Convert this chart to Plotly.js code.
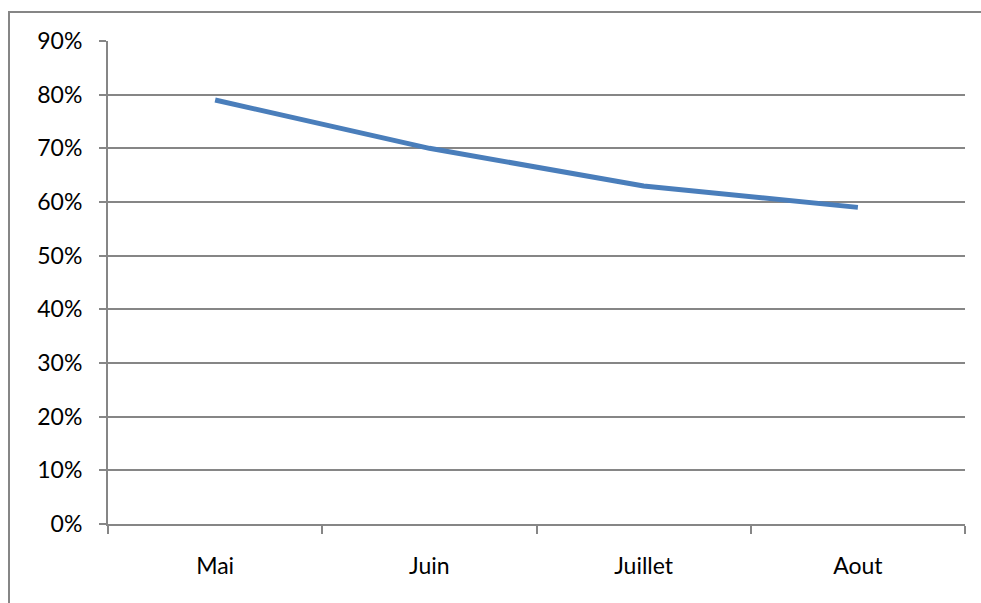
<!DOCTYPE html>
<html><head><meta charset="utf-8">
<script src="https://cdn.plot.ly/plotly-3.0.1.min.js"></script>
<style>html,body{margin:0;padding:0;background:#fff;}#c{width:981px;height:603px;}</style>
</head><body><div id="c"></div>
<script>
const months = ["Mai", "Juin", "Juillet", "Aout"];
const rates = [0.79, 0.70, 0.63, 0.59];
const yTicks = [0, 0.1, 0.2, 0.3, 0.4, 0.5, 0.6, 0.7, 0.8, 0.9];

const trace = {
  x: months, y: rates, type: "scatter", mode: "lines",
  line: {color: "#4a7ebb", width: 5}, hoverinfo: "none"
};
const layout = {
  width: 981, height: 603,
  margin: {l: 108, r: 16, t: 41, b: 79},
  paper_bgcolor: "#fff", plot_bgcolor: "#fff",
  showlegend: false,
  font: {family: "Lato, 'Open Sans', sans-serif", size: 23, color: "#000"},
  xaxis: {
    type: "category", range: [-0.5, 3.5], showgrid: false,
    showline: true, linecolor: "#868686", linewidth: 2,
    ticks: "outside", tickson: "boundaries", ticklen: 8, tickcolor: "#868686", tickwidth: 2,
    ticklabelstandoff: 20, zeroline: false
  },
  yaxis: {
    range: [0, 0.9], tickvals: yTicks, tickformat: ".0%",
    showgrid: true, gridcolor: "#868686", gridwidth: 2,
    showline: true, linecolor: "#868686", linewidth: 2,
    ticks: "outside", ticklen: 7, tickcolor: "#868686", tickwidth: 2,
    ticklabelstandoff: 12, zeroline: false
  },
  shapes: [{
    type: "rect", xref: "paper", yref: "paper",
    x0: -99/857, x1: 1.3, y0: -0.3, y1: 1 + 29/483,
    line: {color: "#868686", width: 2}, fillcolor: "rgba(0,0,0,0)", layer: "below"
  }]
};
Plotly.newPlot("c", [trace], layout, {staticPlot: true});
</script></body></html>
